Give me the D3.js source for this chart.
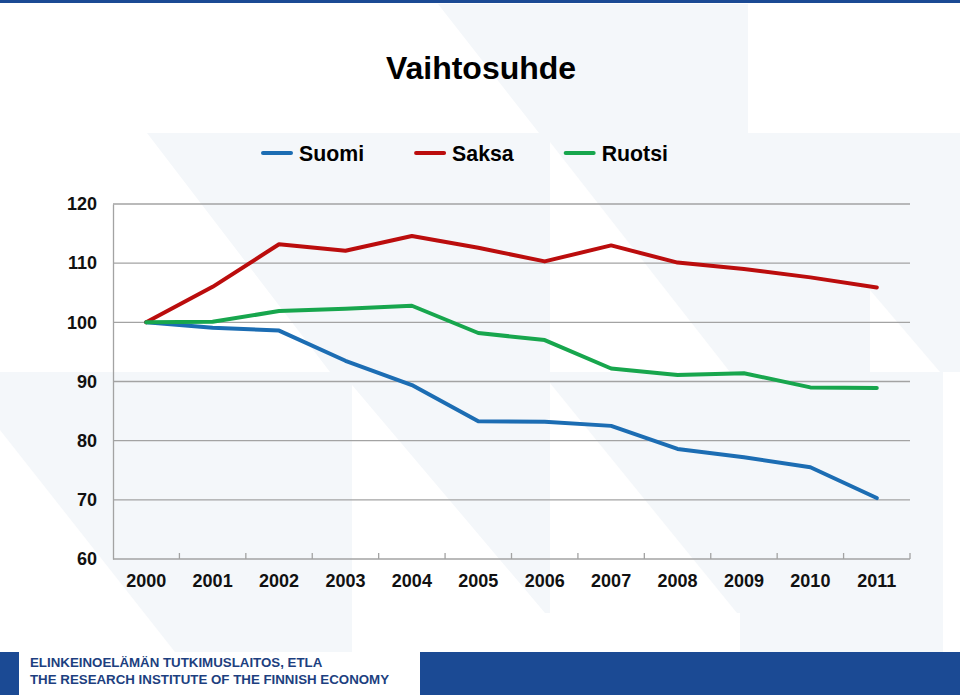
<!DOCTYPE html>
<html>
<head>
<meta charset="utf-8">
<script src="https://cdn.jsdelivr.net/npm/d3@7"></script>
<style>
  html, body { margin: 0; padding: 0; background: #ffffff; }
  svg { display: block; font-family: "Liberation Sans", Arial, Helvetica, sans-serif; }
</style>
</head>
<body>
<svg id="chart" width="960" height="695"></svg>
<script>
// ---- data ----
const years = ["2000","2001","2002","2003","2004","2005","2006","2007","2008","2009","2010","2011"];
const suomi  = [100, 99.1, 98.6, 93.5, 89.4, 83.3, 83.2, 82.5, 78.6, 77.2, 75.5, 70.3];
const saksa  = [100, 106.0, 113.2, 112.1, 114.6, 112.6, 110.3, 113.0, 110.1, 109.0, 107.6, 105.9];
const ruotsi = [100, 100.1, 101.9, 102.3, 102.8, 98.2, 97.0, 92.2, 91.1, 91.4, 89.0, 88.9];
const seriesNames = ["Suomi", "Saksa", "Ruotsi"];
const yTicks = [60, 70, 80, 90, 100, 110, 120];
const title = "Vaihtosuhde";
const footerLines = ["ELINKEINOELÄMÄN TUTKIMUSLAITOS, ETLA", "THE RESEARCH INSTITUTE OF THE FINNISH ECONOMY"];

const colors = { "Suomi": "#1c6db3", "Saksa": "#bb0d0d", "Ruotsi": "#17a64d" };
const series = [
  { name: "Suomi", values: suomi },
  { name: "Saksa", values: saksa },
  { name: "Ruotsi", values: ruotsi }
];

const svg = d3.select("#chart");
const W = 960, H = 695;

// ---- decorative background ----
const bg = svg.append("g");
const light = "#f4f7fa";
const lightPolys = [
  [[438,4],[748,4],[748,133],[539,133]],
  [[147,133],[960,133],[960,372],[943,372],[943,652],[0,652],[0,372],[330,372]]
];
const whitePolys = [
  [[550,142],[550,372],[730,372]],
  [[870,290],[940,372],[870,372]],
  [[0,430],[0,652],[175,652]],
  [[352,385],[352,613],[545,613]],
  [[550,383],[550,613],[737,613]],
  [[352,613],[740,613],[740,652],[352,652]]
];
lightPolys.forEach(p => bg.append("polygon").attr("points", p.map(d => d.join(",")).join(" ")).attr("fill", light));
whitePolys.forEach(p => bg.append("polygon").attr("points", p.map(d => d.join(",")).join(" ")).attr("fill", "#ffffff"));
bg.append("polygon").attr("points", "750,613 780,613 800,652 770,652").attr("fill", light);

// top bar
svg.append("rect").attr("x", 0).attr("y", 0).attr("width", W).attr("height", 3).attr("fill", "#1b4a94");

// ---- scales ----
const margin = { top: 204, right: 50, bottom: 136, left: 113 };
const x = d3.scaleBand().domain(years).range([margin.left, W - margin.right]).padding(0);
const y = d3.scaleLinear().domain([60, 120]).range([H - margin.bottom, margin.top]);

// gridlines
const grid = svg.append("g");
grid.selectAll("line").data(yTicks.filter(t => t > 60)).enter().append("line")
  .attr("x1", margin.left).attr("x2", W - margin.right)
  .attr("y1", d => y(d)).attr("y2", d => y(d))
  .attr("stroke", "#a3a3a3").attr("stroke-width", 1.3);

// y axis
const yAxis = svg.append("g").attr("transform", `translate(${margin.left},0)`)
  .call(d3.axisLeft(y).tickValues(yTicks).tickSize(0).tickPadding(16));
yAxis.select(".domain").attr("stroke", "#a3a3a3").attr("stroke-width", 1.3);
yAxis.selectAll("text").attr("font-size", 18).attr("font-weight", "bold").attr("fill", "#111")
  .attr("font-family", '"Liberation Sans", Arial, sans-serif');

// x axis
const xAxisG = svg.append("g").attr("transform", `translate(0,${y(60)})`);
xAxisG.append("line").attr("x1", margin.left).attr("x2", W - margin.right)
  .attr("y1", 0).attr("y2", 0).attr("stroke", "#a3a3a3").attr("stroke-width", 1.3);
const tickPos = years.slice(1).map(yr => x(yr)).concat([x(years[years.length-1]) + x.bandwidth()]);
xAxisG.selectAll("line.tk").data(tickPos).enter().append("line").attr("class", "tk")
  .attr("x1", d => d).attr("x2", d => d).attr("y1", 0).attr("y2", -6)
  .attr("stroke", "#a3a3a3").attr("stroke-width", 1.3);
xAxisG.selectAll("text").data(years).enter().append("text")
  .attr("x", d => x(d) + x.bandwidth() / 2).attr("y", 28)
  .attr("text-anchor", "middle").attr("font-size", 18).attr("font-weight", "bold").attr("fill", "#111")
  .text(d => d);

// lines
const line = d3.line().x((d, i) => x(years[i]) + x.bandwidth() / 2).y(d => y(d));
svg.append("g").selectAll("path").data(series).enter().append("path")
  .attr("d", d => line(d.values))
  .attr("fill", "none").attr("stroke", d => colors[d.name])
  .attr("stroke-width", 4).attr("stroke-linejoin", "round").attr("stroke-linecap", "round");

// title
svg.append("text").attr("x", 481).attr("y", 79).attr("text-anchor", "middle")
  .attr("font-size", 32).attr("font-weight", "bold").attr("fill", "#000").text(title);

// legend
const legend = svg.append("g");
let lx = 263;
const ly = 153;
seriesNames.forEach(n => {
  legend.append("line").attr("x1", lx).attr("x2", lx + 28).attr("y1", ly).attr("y2", ly)
    .attr("stroke", colors[n]).attr("stroke-width", 4).attr("stroke-linecap", "round");
  const t = legend.append("text").attr("x", lx + 36).attr("y", ly + 7.5)
    .attr("font-size", 21.3).attr("font-weight", "bold").attr("fill", "#000").text(n);
  lx = lx + 36 + t.node().getComputedTextLength() + 52;
});

// footer
svg.append("rect").attr("x", 0).attr("y", 652).attr("width", 19).attr("height", 43).attr("fill", "#1b4a94");
svg.append("rect").attr("x", 420).attr("y", 652).attr("width", 540).attr("height", 43).attr("fill", "#1b4a94");
footerLines.forEach((s, i) => {
  svg.append("text").attr("x", 30).attr("y", 667 + i * 16.5)
    .attr("font-size", 13.3).attr("font-weight", "bold").attr("fill", "#1d3f80").text(s);
});
</script>
</body>
</html>
